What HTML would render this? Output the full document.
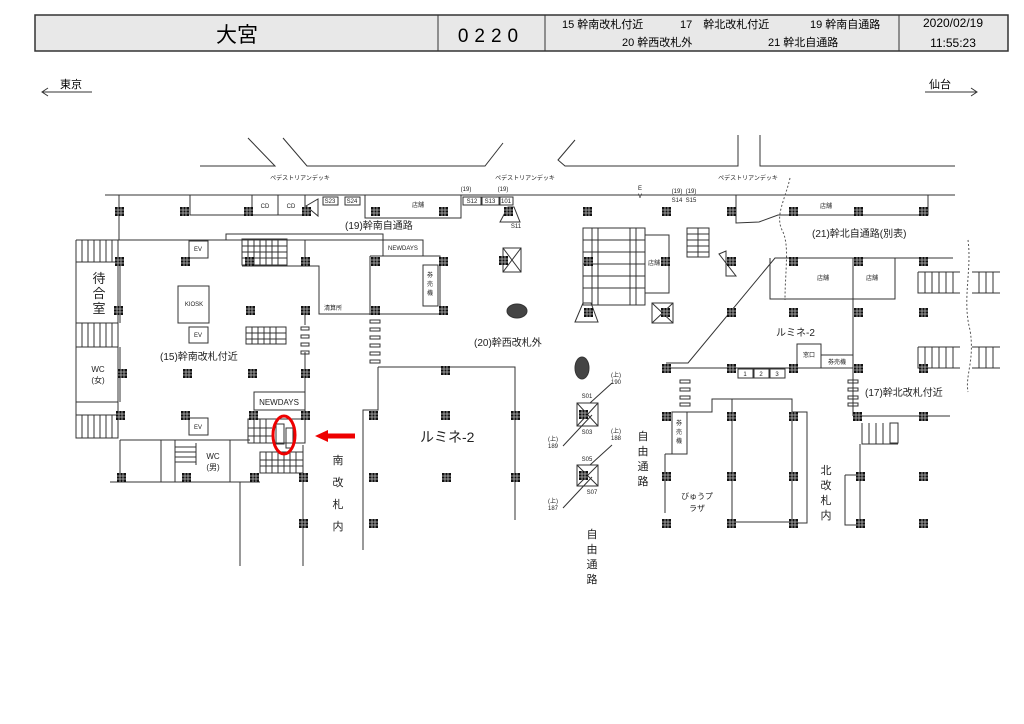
<!DOCTYPE html>
<html><head><meta charset="utf-8"><style>
html,body{margin:0;padding:0;background:#fff;}
svg{display:block;font-family:"Liberation Sans","Noto Sans CJK JP",sans-serif;}
</style></head><body>
<svg width="1024" height="724" viewBox="0 0 1024 724" xmlns="http://www.w3.org/2000/svg">
<defs>
<symbol id="p" viewBox="0 0 9 9"><rect width="9" height="9" fill="#111"/><path d="M3 0V9M6 0V9M0 3H9M0 6H9" stroke="#bbb" stroke-width="0.8"/></symbol>
</defs>
<rect x="35" y="15" width="973" height="36" fill="#e8e8e8" stroke="#333" stroke-width="1.5"/>
<line x1="438" y1="15" x2="438" y2="51" stroke="#333"/>
<line x1="545" y1="15" x2="545" y2="51" stroke="#333"/>
<line x1="899" y1="15" x2="899" y2="51" stroke="#333"/>
<text x="237" y="42" font-size="21" text-anchor="middle">大宮</text>
<text x="491" y="42" font-size="19" text-anchor="middle" letter-spacing="6">0220</text>
<text x="562" y="28" font-size="11">15 幹南改札付近</text>
<text x="680" y="28" font-size="11">17　幹北改札付近</text>
<text x="810" y="28" font-size="11">19 幹南自通路</text>
<text x="622" y="46" font-size="11">20 幹西改札外</text>
<text x="768" y="46" font-size="11">21 幹北自通路</text>
<text x="953" y="27" font-size="12" text-anchor="middle">2020/02/19</text>
<text x="953" y="47" font-size="12" text-anchor="middle">11:55:23</text>
<g stroke="#333" fill="none">
<path d="M42 92H92M48 88L42 92L48 96"/>
<path d="M925 92H977M971 88L977 92L971 96"/>
</g>
<text x="60" y="88" font-size="11">東京</text>
<text x="929" y="88" font-size="11">仙台</text>
<g stroke="#333" fill="none" stroke-width="1">
<path d="M200 166H275L248 138"/>
<path d="M283 138L307 166H485L503 143"/>
<path d="M575 140L558 160L565 166H738V135"/>
<path d="M760 135V166H955"/>
<line x1="105" y1="195" x2="955" y2="195"/>
<path d="M190 195V215H305V195"/><path d="M252 195V215M278 195V215"/>
<path d="M306 206L318 199V216Z"/>
<rect x="323" y="197" width="15" height="8"/><rect x="345" y="197" width="15" height="8"/>
<path d="M365 195V218H461V195"/>
<rect x="463" y="197" width="18" height="8"/><rect x="482" y="197" width="17" height="8"/><rect x="500" y="197" width="13" height="8"/>
<path d="M500 222L508 207H514L520 222Z"/>
<line x1="119" y1="195" x2="119" y2="240"/>
<line x1="76" y1="240" x2="383" y2="240"/>
<rect x="226" y="234" width="157" height="6"/>
<path d="M76 240V438H118V240"/>
<path d="M76 262H118M76 323H118M76 347H118M76 402H118M76 415H118M118 240V262M120 262V323M120 347V402"/>
<path d="M82 240V262M88 240V262M94 240V262M100 240V262M106 240V262M112 240V262"/>
<path d="M82 323V347M88 323V347M94 323V347M100 323V347M106 323V347M112 323V347"/>
<path d="M82 415V438M88 415V438M94 415V438M100 415V438M106 415V438M112 415V438"/>
<path d="M120 440H250M110 482H260M120 440V482M161 440V482M175 440V482M230 440V482"/>
<path d="M175 447H196M175 452H196M175 457H196M175 462H196M196 443V465"/>
<rect x="189" y="241" width="19" height="17"/><rect x="189" y="327" width="19" height="16"/><rect x="189" y="418" width="19" height="17"/>
<rect x="178" y="286" width="31" height="37"/>
<rect x="242" y="239" width="45" height="26"/>
<path d="M242 246H287M242 252H287M242 258H287M248 239V265M254 239V265M260 239V265M266 239V265M272 239V265M278 239V265"/>
<rect x="246" y="327" width="40" height="17"/>
<path d="M246 333H286M246 339H286M252 327V344M258 327V344M264 327V344M270 327V344M276 327V344"/>
<path d="M242 266H319V314H443"/>
<path d="M305 240V258"/>
<path d="M305 314V325M305 352V418M303 445V566M240 482V566"/>
<rect x="301" y="327" width="8" height="3"/><rect x="301" y="335" width="8" height="3"/><rect x="301" y="343" width="8" height="3"/><rect x="301" y="351" width="8" height="3"/>
<rect x="383" y="240" width="40" height="16"/>
<path d="M370 256H440V315M370 256V315"/>
<rect x="423" y="265" width="15" height="41"/>
<rect x="370" y="320" width="10" height="3"/><rect x="370" y="328" width="10" height="3"/><rect x="370" y="336" width="10" height="3"/><rect x="370" y="344" width="10" height="3"/><rect x="370" y="352" width="10" height="3"/><rect x="370" y="360" width="10" height="3"/>
<rect x="254" y="392" width="51" height="18"/>
<rect x="248" y="419" width="57" height="24"/>
<path d="M254 419V443M260 419V443M266 419V443M248 428H272M248 436H272"/>
<rect x="260" y="452" width="43" height="21"/>
<path d="M266 452V473M272 452V473M278 452V473M284 452V473M290 452V473M296 452V473M260 460H303M260 466H303"/>
<rect x="276" y="424" width="8" height="20"/><rect x="286" y="428" width="7" height="20"/>
<path d="M378 367H515V520M378 367V410H363V550"/>
<ellipse cx="517" cy="311" rx="10" ry="7" fill="#444"/>
<ellipse cx="582" cy="368" rx="7" ry="11" fill="#444"/>
<rect x="503" y="248" width="18" height="24"/><path d="M503 248L521 272M521 248L503 272"/>
<path d="M575 322L583 303H591L598 322Z"/>
<rect x="652" y="303" width="21" height="20"/><path d="M652 303L673 323M673 303L652 323"/>
<path d="M719 254L726 251V276L736 276Z"/>
<rect x="583" y="228" width="62" height="77"/>
<path d="M592 228V305M636 228V305M583 240H645M583 252H645M583 264H645M583 276H645M583 288H645M598 228V305M630 228V305"/>
<path d="M645 235H669V293H645"/>
<rect x="687" y="228" width="22" height="29"/>
<path d="M698 228V257M687 234H709M687 240H709M687 246H709M687 252H709"/>
<rect x="577" y="403" width="21" height="23"/><path d="M577 403L598 426M598 403L577 426"/>
<rect x="577" y="465" width="21" height="21"/><path d="M577 465L598 486M598 465L577 486"/>
<path d="M563 446L592 415M563 508L592 477M590 403L612 383M590 465L612 445"/>
<path d="M736 195V223L759 222L778 215H928V195"/>
<path d="M666 363H688L775 258H953"/>
<path d="M770 258V299H895V258M853 258V416"/>
<rect x="738" y="369" width="15" height="9"/><rect x="754" y="369" width="15" height="9"/><rect x="770" y="369" width="15" height="9"/>
<line x1="666" y1="368" x2="853" y2="368"/>
<rect x="797" y="344" width="24" height="24"/><rect x="821" y="355" width="32" height="13"/>
<rect x="680" y="380" width="10" height="3"/><rect x="680" y="388" width="10" height="3"/><rect x="680" y="396" width="10" height="3"/><rect x="680" y="403" width="10" height="3"/>
<rect x="848" y="380" width="10" height="3"/><rect x="848" y="388" width="10" height="3"/><rect x="848" y="396" width="10" height="3"/><rect x="848" y="403" width="10" height="3"/>
<path d="M918 272V293H960M918 272H960M925 272V293M932 272V293M939 272V293M946 272V293M953 272V293"/>
<path d="M972 272H1000M972 293H1000M979 272V293M986 272V293M993 272V293"/>
<path d="M918 347V368H960M918 347H960M925 347V368M932 347V368M939 347V368M946 347V368M953 347V368"/>
<path d="M972 347H1000M972 368H1000M979 347V368M986 347V368M993 347V368"/>
<path d="M853 416H950M862 423V444H898M869 423V444M876 423V444M883 423V444M890 423V444M860 444V525M845 475H860M845 475V525H860"/>
<rect x="890" y="423" width="8" height="20"/>
<rect x="672" y="412" width="15" height="42"/>
<path d="M665 454H672M665 454V513M687 412H712V399H792V523M732 399V523M792 412H807V523H792M732 522H792"/>
</g>
<g stroke="#555" fill="none" stroke-dasharray="2,2">
<path d="M790 178C785 200 775 215 782 230C790 245 785 270 785 300"/>
<path d="M968 240C972 270 962 300 970 330C975 360 965 375 968 392"/>
</g>
<ellipse cx="284" cy="435" rx="11" ry="19" fill="none" stroke="#e00" stroke-width="3"/>
<path d="M355 436H326" stroke="#e00" stroke-width="5"/><path d="M315 436L328 430V442Z" fill="#e00"/>
<g>
<use href="#p" x="115" y="207" width="9" height="9"/><use href="#p" x="180" y="207" width="9" height="9"/><use href="#p" x="244" y="207" width="9" height="9"/><use href="#p" x="302" y="207" width="9" height="9"/><use href="#p" x="371" y="207" width="9" height="9"/><use href="#p" x="439" y="207" width="9" height="9"/><use href="#p" x="504" y="207" width="9" height="9"/><use href="#p" x="583" y="207" width="9" height="9"/><use href="#p" x="662" y="207" width="9" height="9"/><use href="#p" x="727" y="207" width="9" height="9"/><use href="#p" x="789" y="207" width="9" height="9"/><use href="#p" x="854" y="207" width="9" height="9"/><use href="#p" x="919" y="207" width="9" height="9"/>
<use href="#p" x="115" y="257" width="9" height="9"/><use href="#p" x="181" y="257" width="9" height="9"/><use href="#p" x="245" y="257" width="9" height="9"/><use href="#p" x="301" y="257" width="9" height="9"/><use href="#p" x="371" y="257" width="9" height="9"/><use href="#p" x="439" y="257" width="9" height="9"/><use href="#p" x="499" y="256" width="9" height="9"/><use href="#p" x="584" y="257" width="9" height="9"/><use href="#p" x="661" y="257" width="9" height="9"/><use href="#p" x="727" y="257" width="9" height="9"/><use href="#p" x="789" y="257" width="9" height="9"/><use href="#p" x="854" y="257" width="9" height="9"/><use href="#p" x="919" y="257" width="9" height="9"/>
<use href="#p" x="114" y="306" width="9" height="9"/><use href="#p" x="246" y="306" width="9" height="9"/><use href="#p" x="301" y="306" width="9" height="9"/><use href="#p" x="371" y="306" width="9" height="9"/><use href="#p" x="439" y="306" width="9" height="9"/><use href="#p" x="584" y="308" width="9" height="9"/><use href="#p" x="661" y="308" width="9" height="9"/><use href="#p" x="727" y="308" width="9" height="9"/><use href="#p" x="789" y="308" width="9" height="9"/><use href="#p" x="854" y="308" width="9" height="9"/><use href="#p" x="919" y="308" width="9" height="9"/>
<use href="#p" x="118" y="369" width="9" height="9"/><use href="#p" x="183" y="369" width="9" height="9"/><use href="#p" x="248" y="369" width="9" height="9"/><use href="#p" x="301" y="369" width="9" height="9"/><use href="#p" x="441" y="366" width="9" height="9"/><use href="#p" x="662" y="364" width="9" height="9"/><use href="#p" x="727" y="364" width="9" height="9"/><use href="#p" x="789" y="364" width="9" height="9"/><use href="#p" x="854" y="364" width="9" height="9"/><use href="#p" x="919" y="364" width="9" height="9"/>
<use href="#p" x="116" y="411" width="9" height="9"/><use href="#p" x="181" y="411" width="9" height="9"/><use href="#p" x="249" y="411" width="9" height="9"/><use href="#p" x="301" y="411" width="9" height="9"/><use href="#p" x="369" y="411" width="9" height="9"/><use href="#p" x="441" y="411" width="9" height="9"/><use href="#p" x="511" y="411" width="9" height="9"/><use href="#p" x="662" y="412" width="9" height="9"/><use href="#p" x="727" y="412" width="9" height="9"/><use href="#p" x="789" y="412" width="9" height="9"/><use href="#p" x="853" y="412" width="9" height="9"/><use href="#p" x="919" y="412" width="9" height="9"/>
<use href="#p" x="117" y="473" width="9" height="9"/><use href="#p" x="182" y="473" width="9" height="9"/><use href="#p" x="250" y="473" width="9" height="9"/><use href="#p" x="299" y="473" width="9" height="9"/><use href="#p" x="369" y="473" width="9" height="9"/><use href="#p" x="442" y="473" width="9" height="9"/><use href="#p" x="511" y="473" width="9" height="9"/><use href="#p" x="662" y="472" width="9" height="9"/><use href="#p" x="727" y="472" width="9" height="9"/><use href="#p" x="789" y="472" width="9" height="9"/><use href="#p" x="856" y="472" width="9" height="9"/><use href="#p" x="919" y="472" width="9" height="9"/>
<use href="#p" x="299" y="519" width="9" height="9"/><use href="#p" x="369" y="519" width="9" height="9"/><use href="#p" x="662" y="519" width="9" height="9"/><use href="#p" x="727" y="519" width="9" height="9"/><use href="#p" x="789" y="519" width="9" height="9"/><use href="#p" x="856" y="519" width="9" height="9"/><use href="#p" x="919" y="519" width="9" height="9"/>
<use href="#p" x="579" y="410" width="9" height="9"/><use href="#p" x="579" y="471" width="9" height="9"/>
</g>
<g font-size="6" text-anchor="middle" fill="#222">
<text x="300" y="180">ペデストリアンデッキ</text><text x="525" y="180">ペデストリアンデッキ</text><text x="748" y="180">ペデストリアンデッキ</text>
<text x="265" y="208">CD</text><text x="291" y="208">CD</text>
<text x="330" y="203">S23</text><text x="352" y="203">S24</text>
<text x="418" y="207">店舗</text>
<text x="466" y="191">(19)</text><text x="503" y="191">(19)</text>
<text x="472" y="203">S12</text><text x="490" y="203">S13</text><text x="506" y="203">101</text>
<text x="516" y="228">S11</text>
<text x="640" y="190">E</text><text x="640" y="198">V</text>
<text x="677" y="193">(19)</text><text x="691" y="193">(19)</text>
<text x="677" y="202">S14</text><text x="691" y="202">S15</text>
<text x="198" y="251">EV</text><text x="198" y="337">EV</text><text x="198" y="429">EV</text>
<text x="194" y="306">KIOSK</text>
<text x="333" y="310">清算所</text>
<text x="403" y="250">NEWDAYS</text>
<text x="430" y="277">券</text><text x="430" y="286">売</text><text x="430" y="295">機</text>
<text x="654" y="265">店舗</text>
<text x="826" y="208">店舗</text><text x="823" y="280">店舗</text><text x="872" y="280">店舗</text>
<text x="809" y="357">窓口</text><text x="837" y="364">券売機</text>
<text x="745" y="376">1</text><text x="761" y="376">2</text><text x="777" y="376">3</text>
<text x="679" y="425">券</text><text x="679" y="434">売</text><text x="679" y="443">機</text>
<text x="587" y="398">S01</text><text x="587" y="434">S03</text>
<text x="587" y="461">S05</text><text x="592" y="494">S07</text>
<text x="616" y="377">(上)</text><text x="616" y="384">190</text>
<text x="616" y="433">(上)</text><text x="616" y="440">188</text>
<text x="553" y="441">(上)</text><text x="553" y="448">189</text>
<text x="553" y="503">(上)</text><text x="553" y="510">187</text>
</g>
<g font-size="8" text-anchor="middle" fill="#222">
<text x="98" y="372">WC</text><text x="98" y="383">(女)</text>
<text x="213" y="459">WC</text><text x="213" y="470">(男)</text>
<text x="279" y="405">NEWDAYS</text>
<text x="697" y="499">びゅうプ</text><text x="697" y="511">ラザ</text>
</g>
<g font-size="10" fill="#222">
<text x="345" y="229">(19)幹南自通路</text>
<text x="160" y="360">(15)幹南改札付近</text>
<text x="474" y="346">(20)幹西改札外</text>
<text x="812" y="237">(21)幹北自通路(別表)</text>
<text x="865" y="396">(17)幹北改札付近</text>
<text x="776" y="336">ルミネ-2</text>
</g>
<text x="420" y="442" font-size="14" fill="#222">ルミネ-2</text>
<g font-size="13" text-anchor="middle" fill="#222">
<text x="99" y="283">待</text><text x="99" y="298">合</text><text x="99" y="313">室</text>
</g>
<g font-size="11" text-anchor="middle" fill="#222">
<text x="338" y="464">南</text><text x="338" y="486">改</text><text x="338" y="508">札</text><text x="338" y="530">内</text>
<text x="643" y="440">自</text><text x="643" y="455">由</text><text x="643" y="470">通</text><text x="643" y="485">路</text>
<text x="592" y="538">自</text><text x="592" y="553">由</text><text x="592" y="568">通</text><text x="592" y="583">路</text>
<text x="826" y="474">北</text><text x="826" y="489">改</text><text x="826" y="504">札</text><text x="826" y="519">内</text>
</g>
</svg>
</body></html>
